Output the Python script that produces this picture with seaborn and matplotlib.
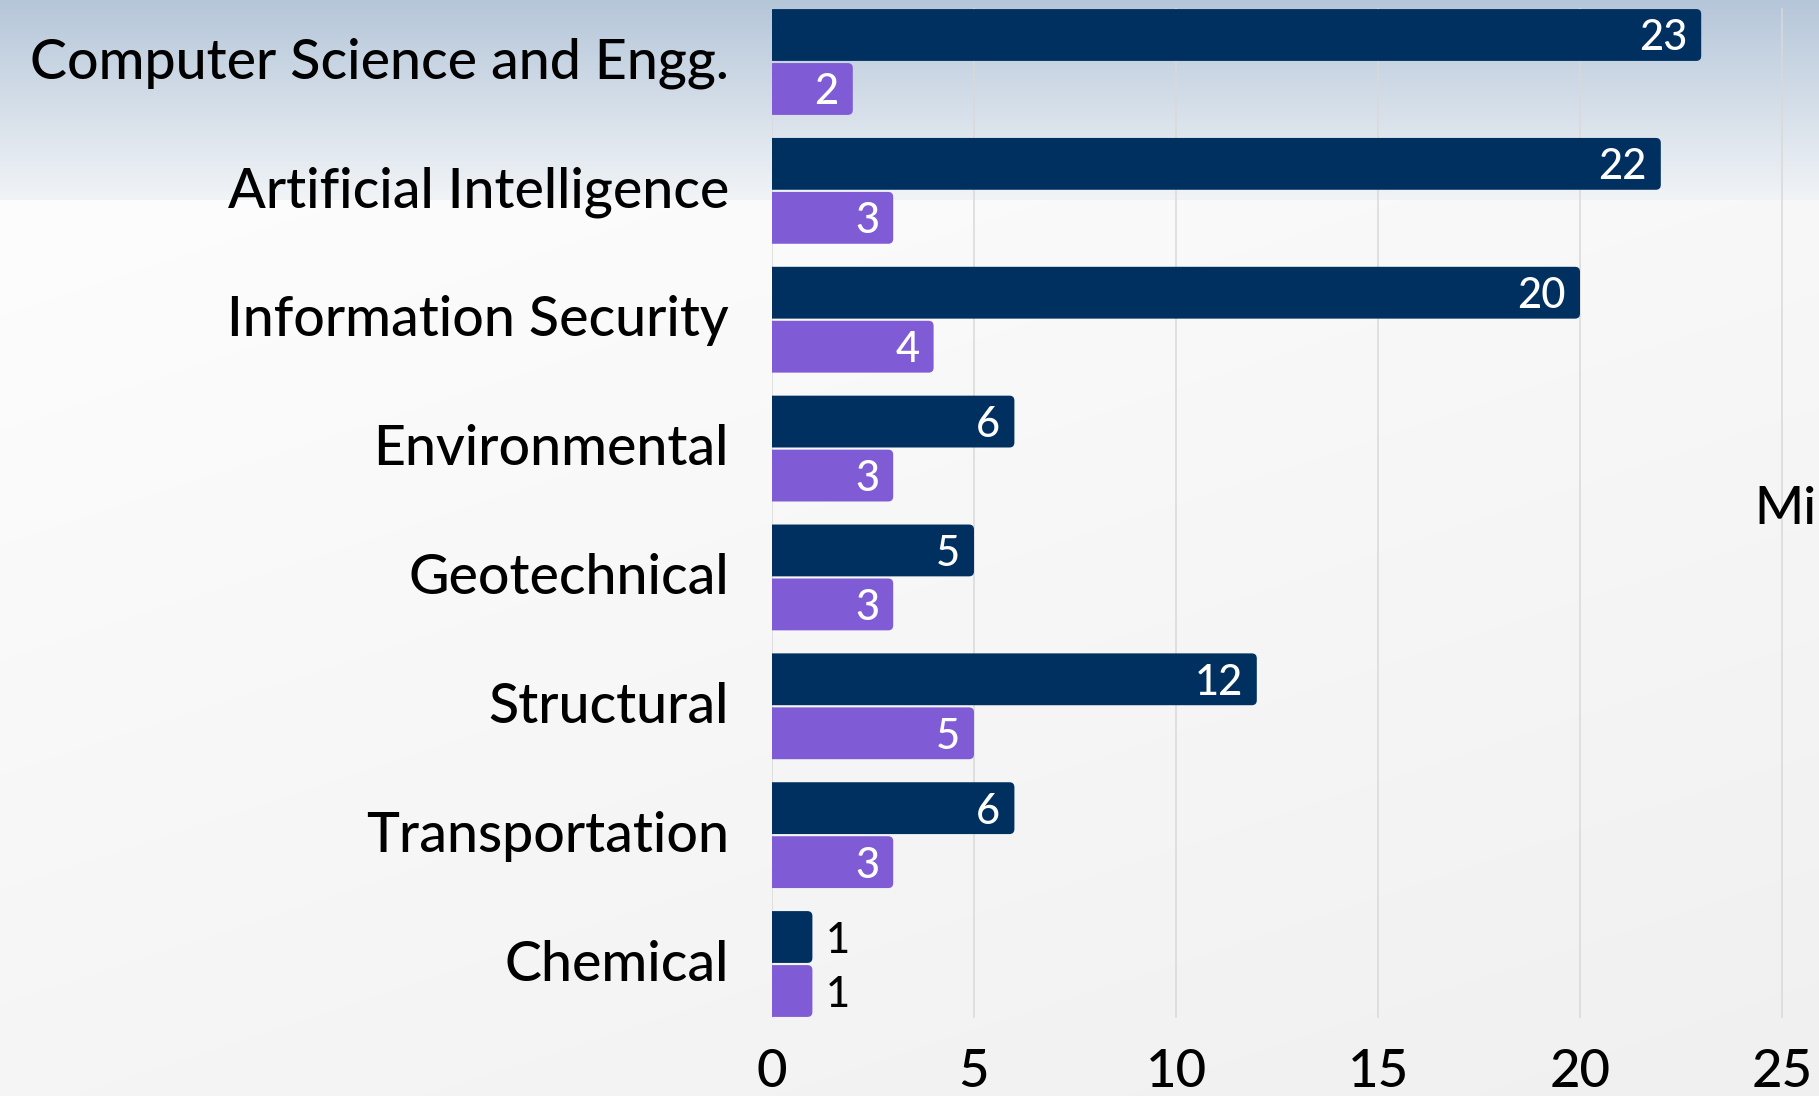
import numpy as np
import pandas as pd
import matplotlib
matplotlib.use("Agg")
import matplotlib.pyplot as plt
import matplotlib.transforms as mtransforms
from matplotlib.patches import FancyBboxPatch
from matplotlib.colors import to_rgb
import seaborn as sns

# ---- data ----
categories = ["Computer Science and Engg.", "Artificial Intelligence",
              "Information Security", "Environmental", "Geotechnical",
              "Structural", "Transportation", "Chemical"]
series_names = ["Series 1", "Series 2"]
series1 = [23, 22, 20, 6, 5, 12, 6, 1]
series2 = [2, 3, 4, 3, 3, 5, 3, 1]
x_ticks = [0, 5, 10, 15, 20, 25]

NAVY = "#00305F"
PURPLE = "#7F5BD6"

df = pd.DataFrame({
    "category": categories * 2,
    "value": series1 + series2,
    "series": [series_names[0]] * len(categories) + [series_names[1]] * len(categories),
})

sns.set_theme(style="white")
plt.rcParams["font.family"] = ["Lato", "DejaVu Sans"]
plt.rcParams["font.weight"] = "medium"

W, H = 1819, 1096
fig = plt.figure(figsize=(W / 100, H / 100), dpi=100)

# background gradient
bg = fig.add_axes([0, 0, 1, 1], zorder=-10)
xx = np.linspace(0, 1, W)[None, :]
top = np.array(to_rgb("#B5C6D9"))
mid = np.array(to_rgb("#F1F4F7"))
low = np.array(to_rgb("#FDFDFD"))
bot = np.array(to_rgb("#F0F0F0"))
ypix = np.arange(H)[:, None]
t1 = np.clip(ypix / 200.0, 0, 1)
upper = top * (1 - t1[..., None]) + mid * t1[..., None]
t2 = np.clip(((ypix - 200) / (H - 200)) * 0.6 + xx * 0.4, 0, 1)
lower = low * (1 - t2[..., None]) + bot * t2[..., None]
mask = (ypix < 200)[..., None]
img = np.where(mask, np.broadcast_to(upper, (H, W, 3)), lower)
bg.imshow(img, aspect="auto", extent=[0, 1, 0, 1], origin="upper")
bg.set_axis_off()

px_per_unit = 40.4
ax_left = 772 / W
ax_bottom = 1 - 1018 / H
ax_height = 1010 / H
xmax = 27
ax = fig.add_axes([ax_left, ax_bottom, xmax * px_per_unit / W, ax_height])
ax.set_facecolor("none")

sns.barplot(data=df, y="category", x="value", hue="series", orient="h",
            palette=[NAVY, PURPLE], width=0.838, gap=0.04, saturation=1,
            legend=False, ax=ax, order=categories, hue_order=series_names)

ax.set_xlim(0, xmax)
ax.set_ylim(7.419, -0.419)

# rounded bars
asp = px_per_unit / 128.9
r = 5 / px_per_unit
bars = list(ax.patches)
for p in bars:
    x0, y0 = p.get_x(), p.get_y()
    w, h = p.get_width(), p.get_height()
    fc = p.get_facecolor()
    p.remove()
    fb = FancyBboxPatch((x0 - 0.3, y0), w + 0.3, h,
                        boxstyle=f"round,pad=0,rounding_size={r}",
                        mutation_aspect=asp, facecolor=fc, edgecolor="none",
                        zorder=2)
    ax.add_patch(fb)
    val = w
    yc = y0 + h / 2
    if val >= 2:
        ax.text(val - 14 / px_per_unit, yc, f"{int(round(val))}", ha="right",
                va="center_baseline", color="white", fontsize=30, zorder=3)
    else:
        ax.text(val + 13 / px_per_unit, yc, f"{int(round(val))}", ha="left",
                va="center_baseline", color="black", fontsize=30, zorder=3)

ax.set_xticks(x_ticks)
ax.set_xticklabels([str(t) for t in x_ticks])
ax.xaxis.grid(True, color="#D9D9D9", linewidth=1.1, zorder=0)
ax.yaxis.grid(False)
ax.set_axisbelow(True)
for s in ax.spines.values():
    s.set_visible(False)
ax.tick_params(axis="x", length=0, pad=22, labelsize=38, labelcolor="black")
ax.tick_params(axis="y", length=0, pad=31, labelsize=40, labelcolor="black")
ax.set_xlabel("")
ax.set_ylabel("")

shift = mtransforms.ScaledTranslation(0, 4 / 100, fig.dpi_scale_trans)
for lbl in ax.get_yticklabels():
    lbl.set_transform(lbl.get_transform() + shift)

fig.text(1754 / W, 1 - 510 / H, "Mi", ha="left", va="center",
         fontsize=38, color="black")

fig.savefig("out.png", dpi=100)
